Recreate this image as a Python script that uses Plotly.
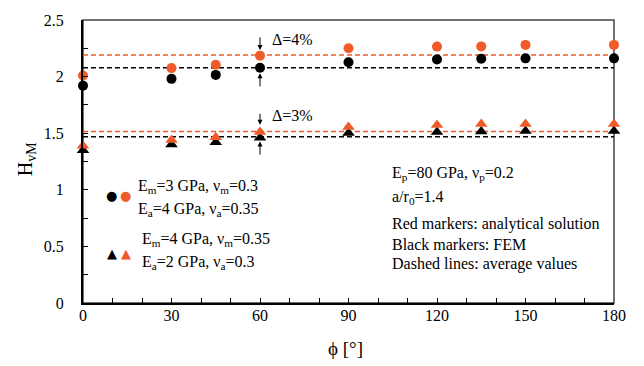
import plotly.graph_objects as go

phi = [0, 30, 45, 60, 90, 120, 135, 150, 180]
circ_analytical = [2.01, 2.075, 2.105, 2.185, 2.25, 2.265, 2.267, 2.28, 2.28]
circ_fem = [1.92, 1.98, 2.015, 2.078, 2.127, 2.152, 2.158, 2.161, 2.161]
tri_analytical = [1.39, 1.44, 1.465, 1.51, 1.555, 1.573, 1.582, 1.582, 1.582]
tri_fem = [1.35, 1.40, 1.42, 1.46, 1.502, 1.51, 1.515, 1.52, 1.52]
avg_circ_analytical = 2.19
avg_circ_fem = 2.078
avg_tri_analytical = 1.516
avg_tri_fem = 1.468
x_ticks = [0, 30, 60, 90, 120, 150, 180]
y_ticks = [0, 0.5, 1, 1.5, 2, 2.5]

RED = "#F15A29"
BLACK = "#000000"
FONT = "Liberation Serif, Times New Roman, serif"

fig = go.Figure()

x_span = [phi[0], phi[-1]]
for val, col in [(avg_circ_analytical, RED), (avg_circ_fem, BLACK),
                 (avg_tri_analytical, RED), (avg_tri_fem, BLACK)]:
    fig.add_trace(go.Scatter(x=x_span, y=[val, val], mode="lines",
                             line=dict(color=col, width=1.5, dash="5px,3px"),
                             showlegend=False, hoverinfo="skip"))

fig.add_trace(go.Scatter(x=phi, y=circ_fem, mode="markers", cliponaxis=False,
                         marker=dict(symbol="circle", size=10, color=BLACK), showlegend=False))
fig.add_trace(go.Scatter(x=phi, y=circ_analytical, mode="markers", cliponaxis=False,
                         marker=dict(symbol="circle", size=10, color=RED), showlegend=False))
fig.add_trace(go.Scatter(x=phi, y=tri_fem, mode="markers", cliponaxis=False,
                         marker=dict(symbol="triangle-up", size=11, color=BLACK), showlegend=False))
fig.add_trace(go.Scatter(x=phi, y=tri_analytical, mode="markers", cliponaxis=False,
                         marker=dict(symbol="triangle-up", size=11, color=RED), showlegend=False))

tfont = dict(family=FONT, size=16, color="black")
ann = []
# difference arrows at phi = 60
for (yt, ys) in [(2.235, 2.36), (2.03, 1.90), (1.575, 1.685), (1.427, 1.298)]:
    ann.append(dict(x=60, y=yt, ax=60, ay=ys, xref="x", yref="y", axref="x", ayref="y",
                    showarrow=True, arrowhead=2, arrowsize=1, arrowwidth=1, arrowcolor="black",
                    text=""))
ann.append(dict(x=63.4, y=2.33, xref="x", yref="y", text="Δ=4%", showarrow=False,
                xanchor="left", yanchor="middle", font=tfont))
ann.append(dict(x=63.4, y=1.66, xref="x", yref="y", text="Δ=3%", showarrow=False,
                xanchor="left", yanchor="middle", font=tfont))

# key
gfont_b = dict(family="DejaVu Sans", size=13, color=BLACK)
gfont_r = dict(family="DejaVu Sans", size=13, color=RED)
ann.append(dict(x=9.8, y=0.948, xref="x", yref="y", text="●", showarrow=False, font=gfont_b))
ann.append(dict(x=14.5, y=0.948, xref="x", yref="y", text="●", showarrow=False, font=gfont_r))
ann.append(dict(x=9.8, y=0.435, xref="x", yref="y", text="▲", showarrow=False, font=gfont_b))
ann.append(dict(x=14.5, y=0.435, xref="x", yref="y", text="▲", showarrow=False, font=gfont_r))

key_texts = [
    (18.0, 1.028, "E<sub>m</sub>=3 GPa, ν<sub>m</sub>=0.3"),
    (18.0, 0.827, "E<sub>a</sub>=4 GPa, ν<sub>a</sub>=0.35"),
    (19.3, 0.561, "E<sub>m</sub>=4 GPa, ν<sub>m</sub>=0.35"),
    (19.3, 0.355, "E<sub>a</sub>=2 GPa, ν<sub>a</sub>=0.3"),
    (104.1, 1.143, "E<sub>p</sub>=80 GPa, ν<sub>p</sub>=0.2"),
    (104.1, 0.928, "a/r<sub>0</sub>=1.4"),
    (104.1, 0.698, "Red markers: analytical solution"),
    (104.1, 0.518, "Black markers: FEM"),
    (104.1, 0.346, "Dashed lines: average values"),
]
for x, y, t in key_texts:
    ann.append(dict(x=x, y=y, xref="x", yref="y", text=t, showarrow=False,
                    xanchor="left", yanchor="middle", font=tfont))

# axis titles
ann.append(dict(x=-0.105, y=0.509, xref="paper", yref="paper", text="H<sub>vM</sub>",
                showarrow=False, textangle=-90, xanchor="center", yanchor="middle",
                font=dict(family=FONT, size=20, color="black")))
ann.append(dict(x=0.494, y=-0.162, xref="paper", yref="paper", text="ϕ [°]",
                showarrow=False, xanchor="center", yanchor="middle",
                font=dict(family=FONT, size=19, color="black")))

fig.update_layout(
    width=644, height=366,
    margin=dict(l=83, r=30, t=12, b=63),
    paper_bgcolor="white", plot_bgcolor="white",
    annotations=ann,
    shapes=[dict(type="rect", xref="paper", yref="paper", x0=0, y0=0, x1=1, y1=1,
                 line=dict(color="#444444", width=1.5), layer="below")],
    font=dict(family=FONT, size=16, color="black"),
)
fig.update_xaxes(range=[0, 180], tickvals=x_ticks, ticks="inside", ticklen=5,
                 tickcolor="black", tickwidth=1, showgrid=False, zeroline=False,
                 showline=True, linecolor="black", linewidth=2,
                 minor=dict(dtick=10, ticks="inside", ticklen=5, tickcolor="black", tickwidth=1),
                 tickfont=dict(family=FONT, size=16, color="black"), ticklabelstandoff=-3)
fig.update_yaxes(range=[0, 2.5], tickvals=y_ticks, ticktext=["0", "0.5", "1", "1.5", "2", "2.5"],
                 ticks="inside", ticklen=5,
                 tickcolor="black", tickwidth=1, showgrid=False, zeroline=False,
                 showline=True, linecolor="black", linewidth=2,
                 minor=dict(dtick=0.25, ticks="inside", ticklen=5, tickcolor="black", tickwidth=1),
                 tickfont=dict(family=FONT, size=16, color="black"), ticklabelstandoff=14)

fig.write_html("out.html", config={"displayModeBar": False},
               post_script="document.body.style.margin='0';document.body.style.padding='0';")
